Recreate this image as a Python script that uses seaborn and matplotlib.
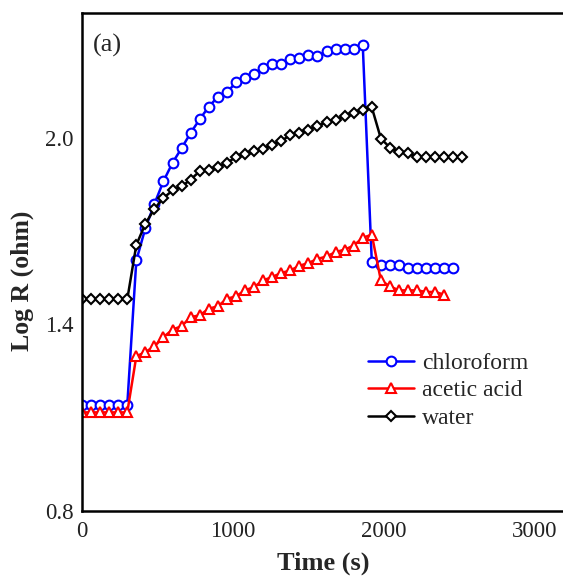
import matplotlib
matplotlib.use("Agg")
import matplotlib.pyplot as plt
import seaborn as sns
import pandas as pd

# Response curves: log resistance vs time for three vapours
chloro_t = [0, 60, 120, 180, 240, 300, 360, 420, 480, 540, 600, 660, 720, 780,
            840, 900, 960, 1020, 1080, 1140, 1200, 1260, 1320, 1380, 1440, 1500,
            1560, 1620, 1680, 1740, 1800, 1860, 1920, 1980, 2040, 2100, 2160,
            2220, 2280, 2340, 2400, 2460]
chloro_r = [1.140, 1.140, 1.140, 1.140, 1.140, 1.140, 1.605, 1.709, 1.787, 1.860,
            1.919, 1.966, 2.015, 2.059, 2.099, 2.131, 2.145, 2.177, 2.193, 2.204,
            2.225, 2.236, 2.236, 2.252, 2.256, 2.266, 2.263, 2.277, 2.286, 2.286,
            2.286, 2.298, 1.600, 1.589, 1.589, 1.591, 1.581, 1.581, 1.581, 1.581,
            1.581, 1.581]

acetic_t = [0, 60, 120, 180, 240, 300, 360, 420, 480, 540, 600, 660, 720, 780,
            840, 900, 960, 1020, 1080, 1140, 1200, 1260, 1320, 1380, 1440, 1500,
            1560, 1620, 1680, 1740, 1800, 1860, 1920, 1980, 2040, 2100, 2160,
            2220, 2280, 2340, 2400]
acetic_r = [1.117, 1.117, 1.117, 1.117, 1.117, 1.117, 1.297, 1.311, 1.329, 1.359,
            1.383, 1.394, 1.423, 1.429, 1.450, 1.458, 1.482, 1.490, 1.509, 1.520,
            1.541, 1.552, 1.565, 1.573, 1.588, 1.597, 1.610, 1.618, 1.632, 1.640,
            1.653, 1.678, 1.688, 1.541, 1.522, 1.509, 1.509, 1.509, 1.504, 1.504,
            1.495]

water_t = [0, 60, 120, 180, 240, 300, 360, 420, 480, 540, 600, 660, 720, 780,
           840, 900, 960, 1020, 1080, 1140, 1200, 1260, 1320, 1380, 1440, 1500,
           1560, 1620, 1680, 1740, 1800, 1860, 1920, 1980, 2040, 2100, 2160,
           2220, 2280, 2340, 2400, 2460, 2520]
water_r = [1.480, 1.480, 1.480, 1.480, 1.480, 1.480, 1.655, 1.723, 1.771, 1.806,
           1.830, 1.843, 1.865, 1.892, 1.896, 1.905, 1.919, 1.937, 1.948, 1.956,
           1.964, 1.977, 1.989, 2.008, 2.014, 2.025, 2.038, 2.049, 2.057, 2.070,
           2.078, 2.087, 2.097, 1.997, 1.968, 1.953, 1.951, 1.938, 1.938, 1.938,
           1.938, 1.938, 1.938]

x_ticks = [0, 1000, 2000, 3000]
y_ticks = [0.8, 1.4, 2.0]

sns.set_theme(style="white")
plt.rcParams["font.family"] = ["Liberation Serif", "DejaVu Serif"]

fig = plt.figure(figsize=(5.63, 5.79), dpi=100)
ax = fig.add_axes([0.1456, 0.1174, 0.858, 0.860])

series = [
    ("chloroform", chloro_t, chloro_r, "#0000ff", "o", 7.0),
    ("acetic acid", acetic_t, acetic_r, "#ff0000", "^", 7.5),
    ("water", water_t, water_r, "#000000", "D", 5.5),
]

for name, t, r, color, mk, ms in series:
    df = pd.DataFrame({"Time (s)": t, "Log R (ohm)": r})
    sns.lineplot(data=df, x="Time (s)", y="Log R (ohm)", ax=ax, sort=False,
                 estimator=None, color=color, linewidth=1.8, marker=mk,
                 markersize=ms, markerfacecolor="white", markeredgecolor=color,
                 markeredgewidth=1.5, label=name)

ax.set_xlim(0, 3200)
ax.set_ylim(0.8, 2.4)
ax.set_xticks(x_ticks)
ax.set_yticks(y_ticks)
ax.set_yticklabels([f"{v:.1f}" for v in y_ticks])

for s in ax.spines.values():
    s.set_color("black")
    s.set_linewidth(1.8)
ax.tick_params(direction="in", length=7, width=1.8, labelsize=16.5,
               colors="black")
ax.tick_params(axis="x", pad=7)
ax.tick_params(axis="y", pad=6)
for lbl in ax.get_xticklabels() + ax.get_yticklabels():
    lbl.set_color("#222222")

ax.set_xlabel("Time (s)", fontsize=19, fontweight="bold", labelpad=7)
ax.set_ylabel("Log R (ohm)", fontsize=18.5, fontweight="bold")
ax.yaxis.set_label_coords(-0.099, 0.462)

ax.text(0.022, 0.935, "(a)", transform=ax.transAxes, fontsize=19,
        ha="left", va="center")

ax.legend(loc="upper left", bbox_to_anchor=(0.582, 0.328), frameon=False,
          fontsize=17, handlelength=1.95, handletextpad=0.35, labelspacing=0.25,
          borderpad=0.2, borderaxespad=0.0)

fig.savefig("out.png", dpi=100)
